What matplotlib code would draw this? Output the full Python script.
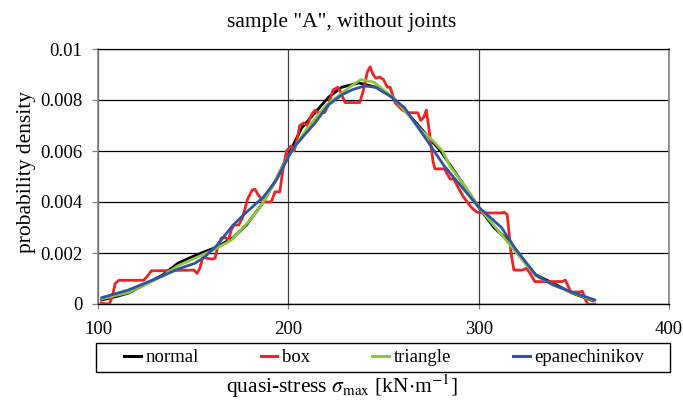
import matplotlib
matplotlib.use("Agg")
import matplotlib.pyplot as plt
from matplotlib.patches import Rectangle

plt.rcParams['font.family'] = ['Liberation Serif', 'DejaVu Serif']
plt.rcParams['mathtext.fontset'] = 'stix'

# ---- data ----
normal_x = [102, 110, 116, 126, 134, 142, 151, 156, 162, 171, 178, 186, 193, 201, 207, 214,
            221, 228, 237, 246, 255, 261, 266, 273, 280, 291, 300, 308, 314, 319, 330, 339, 349, 360]
normal_y = [0.00016, 0.0003, 0.00043, 0.00082, 0.00114, 0.0016, 0.0019, 0.00205, 0.00222, 0.0026,
            0.0031, 0.0039, 0.0048, 0.006, 0.0069, 0.0075, 0.0081, 0.0085, 0.00867, 0.0085, 0.0081,
            0.0076, 0.0072, 0.0066, 0.006, 0.0048, 0.0038, 0.003, 0.0026, 0.0021, 0.00114, 0.00082,
            0.00043, 0.00013]

box_x = [101.6, 106, 107.5, 109, 111, 124, 126, 128, 150.5, 152, 153.5, 155, 160, 161.5, 163, 165,
         167, 168.5, 170, 171.5, 174, 176, 178.5, 181, 182.5, 184, 187, 191, 193, 195.5, 197, 199,
         201.5, 203, 204.5, 206, 208, 210, 212, 214, 215.6, 219, 221, 223.5, 226, 227.5, 229.8,
         237.5, 239.5, 241.5, 243, 244.5, 246, 248, 250, 252, 253.5, 256, 260, 263, 268, 269.5,
         271, 272.5, 274, 276, 277, 282, 285, 287, 289, 292, 294, 296, 299, 302, 312, 313.5, 315,
         317, 318.5, 323, 325, 327, 329.5, 344, 345.5, 347, 348.5, 353, 354.5, 356.5, 357.5, 361]
box_y = [0.00003, 0.0, 0.0003, 0.0008, 0.00093, 0.00093, 0.0011, 0.0013, 0.00133, 0.0012, 0.0014,
         0.00182, 0.00176, 0.0018, 0.0023, 0.0026, 0.0026, 0.0025, 0.0029, 0.0031, 0.0031, 0.0034,
         0.0041, 0.00447, 0.0045, 0.0043, 0.004, 0.004, 0.0044, 0.0044, 0.0052, 0.006, 0.0062,
         0.006, 0.0064, 0.007, 0.0071, 0.007, 0.0074, 0.0076, 0.0075, 0.0075, 0.0078, 0.0084,
         0.0085, 0.0083, 0.0079, 0.0079, 0.0084, 0.0091, 0.0093, 0.009, 0.00885, 0.0089, 0.0088,
         0.0085, 0.0085, 0.0079, 0.0076, 0.0075, 0.0075, 0.0072, 0.0073, 0.0076, 0.0068, 0.0056,
         0.0053, 0.0053, 0.0049, 0.0049, 0.0046, 0.0042, 0.004, 0.0038, 0.0036, 0.00357, 0.00357,
         0.0036, 0.0035, 0.002, 0.00133, 0.00133, 0.0014, 0.0012, 0.00088, 0.00088, 0.00094,
         0.0007, 0.00047, 0.00047, 0.0005, 0.0001, -0.00002, 0.0]

tri_x = [102, 116, 126, 134, 142, 151, 160, 170, 180, 186, 190, 200, 210, 220, 227, 232, 238, 245,
         255, 262, 270, 276, 281, 285, 292, 300, 310, 320, 330, 340, 350, 360]
tri_y = [0.0002, 0.00045, 0.0008, 0.0011, 0.0015, 0.0018, 0.0021, 0.0025, 0.0033, 0.0039, 0.0044,
         0.0058, 0.0069, 0.0078, 0.0082, 0.0085, 0.0088, 0.0087, 0.0081, 0.0075, 0.0068, 0.0064,
         0.006, 0.0054, 0.0047, 0.0038, 0.0029, 0.002, 0.0011, 0.00072, 0.00042, 0.00015]

epa_x = [102, 116, 134, 142, 151, 156, 162.5, 171, 178, 187, 194, 201, 203.5, 214, 221, 228, 233.5,
         240, 246, 254.5, 261, 273, 282, 291, 300, 312, 319, 330, 339, 349, 361]
epa_y = [0.00025, 0.00055, 0.0011, 0.00137, 0.0016, 0.00184, 0.0023, 0.0031, 0.0036, 0.0042, 0.0049,
         0.0059, 0.0062, 0.0071, 0.0078, 0.0082, 0.0084, 0.00855, 0.0085, 0.0081, 0.0077, 0.0064,
         0.0054, 0.0046, 0.0038, 0.003, 0.0022, 0.00114, 0.00075, 0.00047, 0.00016]

x_ticks = [100, 200, 300, 400]
y_ticks = [0, 0.002, 0.004, 0.006, 0.008, 0.01]
y_tick_labels = ["0", "0.002", "0.004", "0.006", "0.008", "0.01"]
series_names = ["normal", "box", "triangle", "epanechinikov"]
colors = ["#000000", "#EE2424", "#8DC63F", "#2F55A5"]

W, H = 683, 404
fig = plt.figure(figsize=(W / 100, H / 100), dpi=100)
ax = fig.add_axes([98 / W, 1 - 304 / H, (669 - 98) / W, (304 - 49) / H])

lw = 2.0
ax.plot(normal_x, normal_y, color=colors[0], lw=lw, label=series_names[0], zorder=3)
ax.plot(box_x, box_y, color=colors[1], lw=lw, label=series_names[1], zorder=3)
ax.plot(tri_x, tri_y, color=colors[2], lw=lw, label=series_names[2], zorder=3)
ax.plot(epa_x, epa_y, color=colors[3], lw=lw, label=series_names[3], zorder=3)

ax.set_xlim(100, 400)
ax.set_ylim(0, 0.01)
ax.set_xticks(x_ticks)
ax.set_xticklabels([str(v) for v in x_ticks])
ax.set_yticks(y_ticks)
ax.set_yticklabels(y_tick_labels)

ax.grid(axis='y', color='black', lw=0.9, zorder=1)
ax.grid(axis='x', color='#404040', lw=0.9, zorder=1)

for s in ['left', 'right']:
    ax.spines[s].set_color('#808080')
    ax.spines[s].set_linewidth(1.2)
ax.spines['top'].set_color('black')
ax.spines['top'].set_linewidth(0.9)
ax.spines['bottom'].set_color('black')
ax.spines['bottom'].set_linewidth(1.0)

ax.tick_params(axis='y', direction='out', length=4.3, width=0.9, color='#808080',
               pad=7, labelsize=13.5)
ax.tick_params(axis='x', direction='out', length=3.5, width=0.9, color='#808080',
               pad=9, labelsize=13.5)

fig.text(0.5, 1 - 22 / H, 'sample "A", without joints', ha='center', va='center', fontsize=15.5)
fig.text(27 / W, 1 - 172 / H, 'probability density', ha='center', va='center',
         rotation=90, fontsize=15.5)
fig.text(0.5, 1 - 386 / H, r'quasi-stress $\sigma_{\mathrm{max}}$ [kN$\cdot$m$^{-1}$]',
         ha='center', va='center', fontsize=15.5)

handles, labels = ax.get_legend_handles_labels()
leg = fig.legend(handles, labels, loc='center', ncol=4, frameon=False,
                 bbox_to_anchor=(384 / W, 1 - 357.5 / H), fontsize=13.5,
                 handlelength=0.9, handletextpad=0.25, columnspacing=3.3)
for l in leg.get_lines():
    l.set_linewidth(2.2)
fig.patches.append(Rectangle((96 / W, 1 - 372 / H), (670 - 96) / W, (372 - 343) / H,
                             transform=fig.transFigure, fill=False, edgecolor='black', lw=1.0))

fig.savefig('out.png', dpi=100)
